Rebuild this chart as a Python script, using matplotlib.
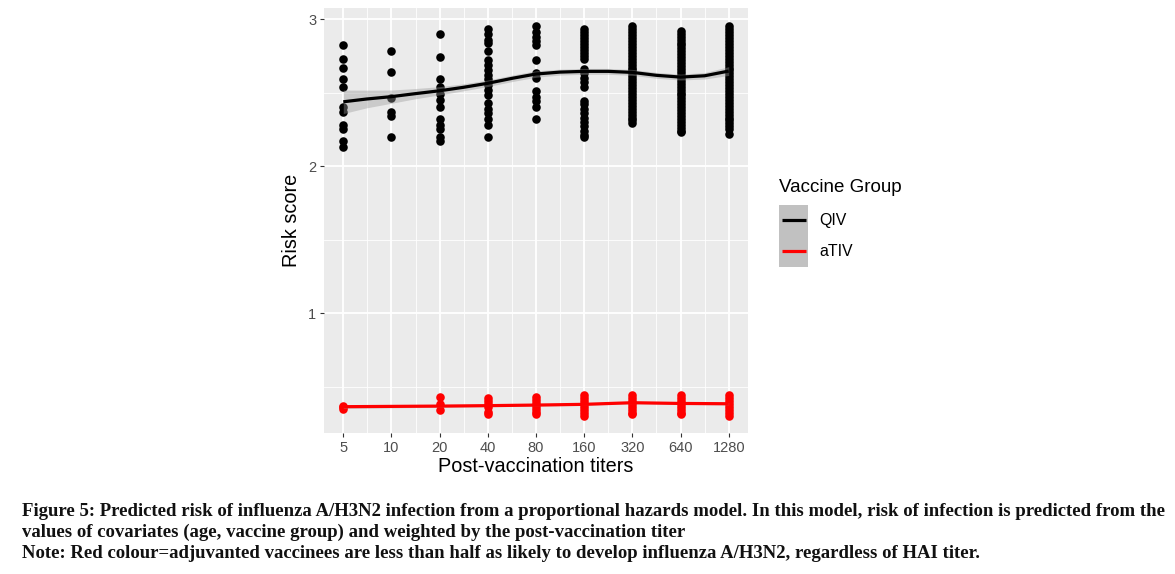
import numpy as np
import matplotlib.pyplot as plt
from matplotlib.patches import Rectangle
from matplotlib.lines import Line2D

# ---- data ----
titers = [5, 10, 20, 40, 80, 160, 320, 640, 1280]
tick_labels = ["5", "10", "20", "40", "80", "160", "320", "640", "1280"]

# QIV risk scores per titer
qiv_scores = [
    [2.82, 2.73, 2.67, 2.59, 2.54, 2.40, 2.37, 2.28, 2.25, 2.17, 2.13],
    [2.78, 2.64, 2.46, 2.37, 2.34, 2.20],
    [2.90, 2.74, 2.59, 2.54, 2.49, 2.45, 2.40, 2.32, 2.28, 2.25, 2.20, 2.17],
    [2.93, 2.90, 2.86, 2.84, 2.78, 2.72, 2.69, 2.65, 2.62, 2.59, 2.55, 2.52,
     2.48, 2.43, 2.39, 2.36, 2.32, 2.28, 2.20],
    [2.95, 2.91, 2.88, 2.85, 2.82, 2.72, 2.63, 2.60, 2.51, 2.47, 2.44, 2.40, 2.32],
    [2.93, 2.91, 2.89, 2.87, 2.85, 2.83, 2.81, 2.79, 2.77, 2.75, 2.73, 2.66,
     2.63, 2.60, 2.57, 2.54, 2.44, 2.42, 2.39, 2.36, 2.33, 2.30, 2.27, 2.24,
     2.21, 2.20],
    [2.95, 2.93, 2.91, 2.89, 2.87, 2.85, 2.83, 2.81, 2.79, 2.77, 2.75, 2.73,
     2.71, 2.69, 2.67, 2.65, 2.63, 2.61, 2.59, 2.57, 2.55, 2.53, 2.51, 2.49,
     2.47, 2.45, 2.43, 2.41, 2.39, 2.37, 2.35, 2.33, 2.31, 2.29],
    [2.92, 2.90, 2.88, 2.86, 2.84, 2.82, 2.80, 2.78, 2.76, 2.74, 2.72, 2.70,
     2.68, 2.66, 2.64, 2.62, 2.60, 2.58, 2.56, 2.54, 2.52, 2.50, 2.48, 2.46,
     2.44, 2.42, 2.40, 2.38, 2.36, 2.34, 2.32, 2.30, 2.28, 2.26, 2.24, 2.23],
    [2.95, 2.93, 2.91, 2.89, 2.87, 2.85, 2.83, 2.81, 2.79, 2.77, 2.75, 2.73,
     2.71, 2.69, 2.67, 2.65, 2.63, 2.61, 2.59, 2.57, 2.55, 2.53, 2.51, 2.49,
     2.47, 2.45, 2.43, 2.41, 2.39, 2.37, 2.35, 2.33, 2.31, 2.29, 2.27, 2.25,
     2.22],
]

# aTIV risk scores per titer (none at 10)
ativ_scores = [
    [0.37, 0.36, 0.35],
    [],
    [0.43, 0.38, 0.34],
    [0.42, 0.40, 0.38, 0.36, 0.33, 0.31],
    [0.43, 0.41, 0.39, 0.37, 0.35, 0.33, 0.31],
    [0.44, 0.42, 0.40, 0.38, 0.36, 0.34, 0.32, 0.30],
    [0.44, 0.42, 0.40, 0.38, 0.36, 0.34, 0.32, 0.31],
    [0.44, 0.42, 0.40, 0.38, 0.36, 0.34, 0.32, 0.31],
    [0.44, 0.42, 0.40, 0.38, 0.36, 0.34, 0.32, 0.30],
]

# loess fits
qiv_fit_x = [5, 7, 10, 14, 20, 28, 40, 57, 80, 113, 160, 226, 320, 453, 640, 905, 1280]
qiv_fit = [2.437, 2.456, 2.472, 2.492, 2.512, 2.535, 2.563, 2.597, 2.626,
           2.639, 2.644, 2.644, 2.637, 2.617, 2.605, 2.614, 2.646]
qiv_se = [0.08, 0.06, 0.045, 0.035, 0.028, 0.024, 0.022, 0.022, 0.022,
          0.02, 0.02, 0.02, 0.02, 0.02, 0.02, 0.022, 0.03]

ativ_fit_x = [5, 20, 40, 80, 160, 320, 640, 1280]
ativ_fit = [0.363, 0.367, 0.370, 0.374, 0.379, 0.390, 0.385, 0.383]
ativ_se = [0.012, 0.008, 0.006, 0.006, 0.006, 0.006, 0.006, 0.008]

groups = ["QIV", "aTIV"]
group_colors = ["#000000", "#FF0000"]

caption_lines = [
    "Figure 5: Predicted risk of influenza A/H3N2 infection from a proportional hazards model. "
    "In this model, risk of infection is predicted from the",
    "values of covariates (age, vaccine group) and weighted by the post-vaccination titer",
    "Note: Red colour=adjuvanted vaccinees are less than half as likely to develop influenza "
    "A/H3N2, regardless of HAI titer.",
]

plt.rcParams['font.family'] = ['Liberation Sans', 'DejaVu Sans']

W, H = 1175, 574
fig = plt.figure(figsize=(W / 100, H / 100), dpi=100)
ax = fig.add_axes([324 / W, 1 - 433 / H, (748 - 324) / W, (433 - 8) / H])
ax.set_facecolor("#EBEBEB")

ax.set_xscale("log", base=2)
ax.set_xlim(5 / 2 ** 0.4, 1280 * 2 ** 0.4)
ax.set_ylim(0.184, 3.075)

# grid
for t in titers:
    ax.axvline(t, color="white", lw=1.3, zorder=0)
for a, b in zip(titers[:-1], titers[1:]):
    ax.axvline(np.sqrt(a * b), color="white", lw=0.6, zorder=0)
for v in [1, 2, 3]:
    ax.axhline(v, color="white", lw=1.3, zorder=0)
for v in [0.5, 1.5, 2.5]:
    ax.axhline(v, color="white", lw=0.6, zorder=0)

# points
for t, ys in zip(titers, qiv_scores):
    ax.scatter([t] * len(ys), ys, s=38, color=group_colors[0], lw=0, zorder=2)
for t, ys in zip(titers, ativ_scores):
    if ys:
        ax.scatter([t] * len(ys), ys, s=38, color=group_colors[1], lw=0, zorder=2)

# smooth ribbons + lines
qf, qs = np.array(qiv_fit), np.array(qiv_se)
ax.fill_between(qiv_fit_x, qf - qs, qf + qs, color="#999999", alpha=0.4, lw=0, zorder=3)
ax.plot(qiv_fit_x, qf, color=group_colors[0], lw=2.3, zorder=4, solid_capstyle="butt")
af, ase = np.array(ativ_fit), np.array(ativ_se)
ax.fill_between(ativ_fit_x, af - ase, af + ase, color="#999999", alpha=0.4, lw=0, zorder=3)
ax.plot(ativ_fit_x, af, color=group_colors[1], lw=2.3, zorder=4, solid_capstyle="butt")

ax.set_xticks(titers)
ax.set_xticklabels(tick_labels)
ax.xaxis.set_minor_locator(plt.NullLocator())
ax.set_yticks([1, 2, 3])
ax.set_yticklabels(["1", "2", "3"])
ax.tick_params(axis="both", length=3, width=0.8, color="#333333",
               labelcolor="#4D4D4D", labelsize=10.5, pad=2.5)
for s in ax.spines.values():
    s.set_visible(False)

ax.set_xlabel("Post-vaccination titers", fontsize=14.3, labelpad=2)
ax.set_ylabel("Risk score", fontsize=14.3, labelpad=5)

# legend (drawn by hand, ggplot style)
fig.text(779 / W, 1 - 188 / H, "Vaccine Group", fontsize=13.5, va="center", ha="left")
for i, (g, c) in enumerate(zip(groups, group_colors)):
    yc = 220 + 31 * i
    fig.patches.append(Rectangle((779 / W, 1 - (yc + 15.5) / H), 29 / W, 31 / H,
                                 transform=fig.transFigure, facecolor="#C1C1C1",
                                 edgecolor="none"))
    fig.add_artist(Line2D([782 / W, 806 / W], [1 - yc / H, 1 - yc / H], color=c, lw=2.3,
                          transform=fig.transFigure, solid_capstyle="butt"))
    fig.text(819 / W, 1 - yc / H, g, fontsize=11.4, va="center", ha="left")

# caption
cap_y = [516.5, 536.5, 558.5]
cap_texts = []
for line, y in zip(caption_lines, cap_y):
    t = fig.text(22 / W, 1 - y / H, line, fontsize=12, fontweight="bold",
                 family=["Liberation Serif", "DejaVu Serif"], va="baseline", ha="left",
                 color="#111111")
    cap_texts.append(t)

# fit caption width to the reference (first line ends near x=1166)
for _ in range(3):
    fig.canvas.draw()
    w = cap_texts[0].get_window_extent().width
    size = cap_texts[0].get_fontsize() * (1140 / w)
    for t in cap_texts:
        t.set_fontsize(size)

fig.savefig("out.png", dpi=100)
